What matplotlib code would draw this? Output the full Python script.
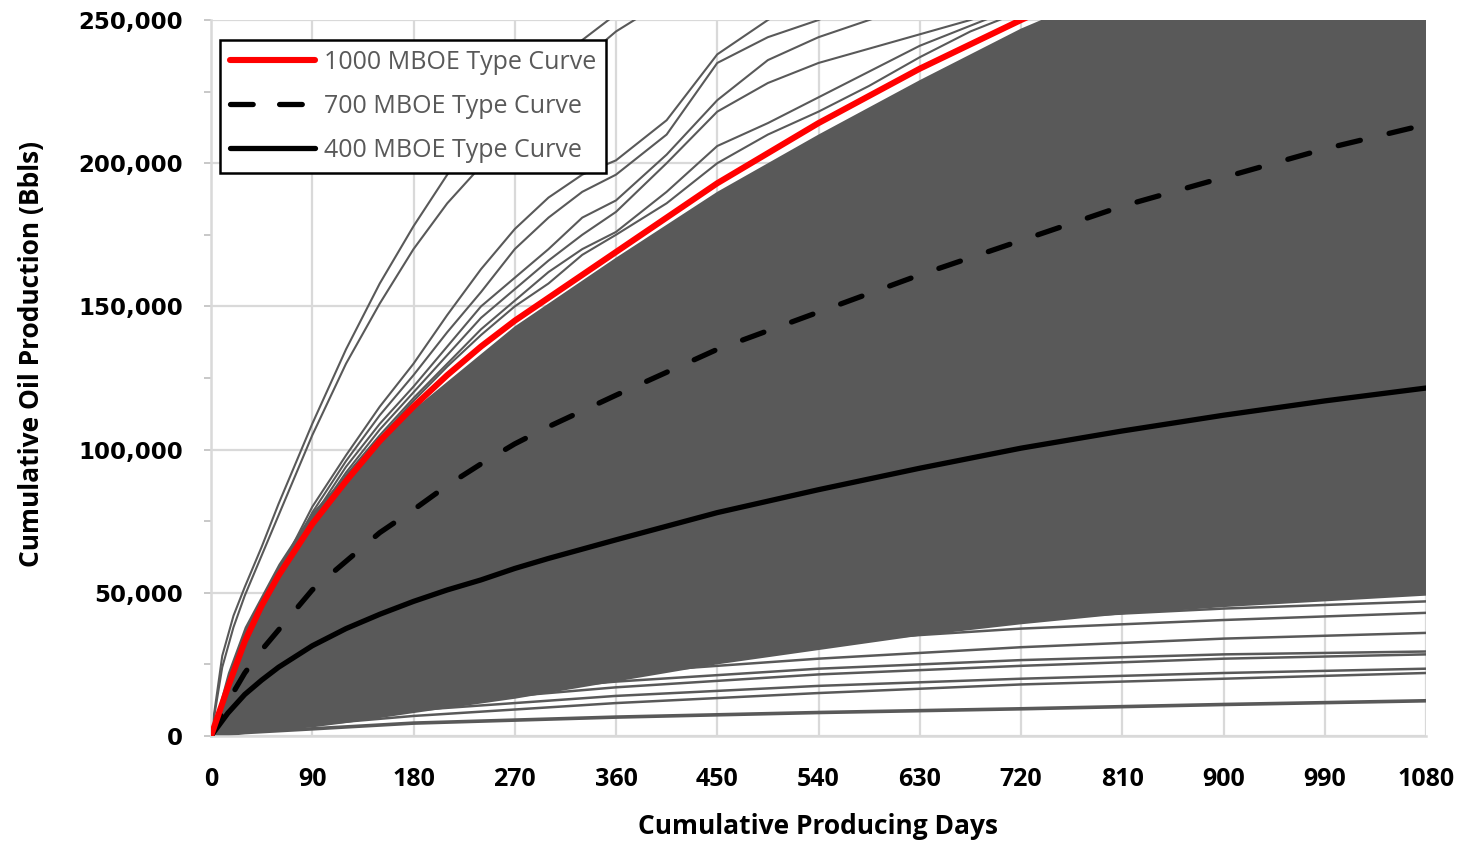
import matplotlib
matplotlib.use("Agg")
import matplotlib.pyplot as plt
from matplotlib.lines import Line2D
from matplotlib.ticker import MultipleLocator, FuncFormatter

# ---------------- data ----------------
TC_DAYS = [0, 15, 30, 45, 60, 90, 120, 150, 180, 210, 240, 270, 300, 360,
           450, 540, 630, 720, 810, 900, 990, 1080]
TC_1000 = [0, 17000, 33000, 45500, 56000, 74000, 89000, 103000, 115000,
           126000, 136000, 145000, 153000, 169000, 193000, 214000, 233000,
           250000, 266000, 281000, 295000, 308000]
TC_700 = [0, 12000, 22000, 30000, 37000, 51000, 61000, 71000, 79000, 87500,
          95000, 102000, 108000, 119000, 135000, 148000, 161000, 173000,
          185000, 195000, 205000, 213500]
TC_400 = [0, 8000, 14500, 19500, 24000, 31500, 37500, 42500, 47000, 51000,
          54500, 58500, 62000, 68500, 78000, 86000, 93500, 100500, 106500,
          112000, 117000, 121500]

# dense cloud of wells (envelope of the solid grey mass)
ENV_DAYS = [0, 15, 30, 60, 90, 120, 180, 270, 360, 450, 540, 630, 720, 810,
            900, 990, 1080]
ENV_UPPER = [0, 22000, 38000, 60000, 78000, 91000, 114000, 143000, 167000,
             190000, 210000, 229000, 247000, 262000, 275000, 287000, 298000]
ENV_LOWER = [0, 500, 1000, 2000, 3000, 4500, 8000, 13000, 19000, 25000,
             30000, 35000, 39000, 42500, 45000, 47000, 49000]

# individual high wells (above the 1000 MBOE curve)
HIGH_DAYS = [0, 10, 20, 30, 45, 60, 90, 120, 150, 180, 210, 240, 270, 300,
             330, 360, 405, 450, 495, 540, 585, 630, 675, 720]
HIGH_1 = [0, 28000, 42000, 52000, 66000, 81000, 109000, 135000, 158000,
          178000, 196000, 210000, 222000, 233000, 243000, 252000, 263000,
          273000, 282000, 290000, 298000, 305000, 312000, 318000]
HIGH_2 = [0, 24000, 38000, 49000, 63000, 77000, 105000, 130000, 151000,
          170000, 186000, 199000, 212000, 225000, 236000, 246000, 257000,
          267000, 276000, 284000, 292000, 299000, 306000, 312000]
HIGH_3 = [0, 12000, 22000, 32000, 45000, 57000, 80000, 98000, 115000,
          130000, 147000, 163000, 177000, 188000, 196000, 201000, 215000,
          238000, 250000, 260000, 268000, 276000, 283000, 290000]
HIGH_4 = [0, 11000, 21000, 31000, 44000, 56000, 78000, 96000, 112000,
          126000, 141000, 155000, 170000, 181000, 190000, 196000, 210000,
          235000, 244000, 250000, 258000, 266000, 273000, 280000]
HIGH_5 = [0, 11000, 21000, 30000, 43000, 55000, 76000, 94000, 109000,
          122000, 136000, 150000, 160000, 170000, 181000, 187000, 203000,
          222000, 236000, 244000, 250000, 256000, 262000, 268000]
HIGH_6 = [0, 10000, 20000, 30000, 43000, 54000, 75000, 92000, 107000,
          120000, 133000, 146000, 156000, 166000, 175000, 183000, 200000,
          218000, 228000, 235000, 240000, 245000, 250000, 256000]
HIGH_7 = [0, 10000, 20000, 29000, 42000, 53000, 74000, 91000, 105000,
          118000, 130000, 142000, 152000, 162000, 170000, 176000, 190000,
          206000, 214000, 223000, 232000, 241000, 248000, 255000]
HIGH_8 = [0, 10000, 19000, 29000, 42000, 53000, 73000, 90000, 104000,
          117000, 129000, 140000, 150000, 158000, 168000, 175000, 186000,
          200000, 210000, 218000, 227000, 237000, 246000, 253000]
HIGH_WELLS = [HIGH_1, HIGH_2, HIGH_3, HIGH_4, HIGH_5, HIGH_6, HIGH_7, HIGH_8]

# individual low wells (below the dense mass)
LOW_DAYS = [0, 30, 90, 180, 360, 540, 720, 900, 1080]
LOW_WELLS = [
    [0, 1200, 2500, 4500, 6600, 8200, 9500, 11000, 12300],
    [0, 2000, 4000, 7000, 11500, 15000, 18000, 20000, 22000],
    [0, 2500, 5000, 9000, 14000, 17500, 20000, 22000, 23500],
    [0, 3000, 6000, 11000, 17000, 21500, 24500, 27000, 28500],
    [0, 3500, 7000, 13000, 19000, 23500, 26500, 28500, 29500],
    [0, 4000, 8000, 15000, 22000, 27000, 31000, 34000, 36000],
    [0, 4500, 9000, 17000, 26000, 33000, 37500, 40500, 43000],
    [0, 5000, 10000, 18000, 28000, 36000, 41000, 44500, 47000],
]

X_TICKS = [0, 90, 180, 270, 360, 450, 540, 630, 720, 810, 900, 990, 1080]
Y_TICKS = [0, 50000, 100000, 150000, 200000, 250000]
LEGEND_LABELS = ["1000 MBOE Type Curve", "700 MBOE Type Curve",
                 "400 MBOE Type Curve"]

# ---------------- styling ----------------
GREY = "#595959"
GRID = "#d9d9d9"
FONT = ["Open Sans", "DejaVu Sans"]

fig = plt.figure(figsize=(14.68, 8.41), dpi=100)
fig.patch.set_facecolor("white")
ax = fig.add_axes([211 / 1468, 1 - 736 / 841, 1215 / 1468, 716 / 841])

ax.set_xlim(0, 1080)
ax.set_ylim(0, 250000)

# grid
ax.set_xticks(X_TICKS)
ax.set_yticks(Y_TICKS)
ax.yaxis.set_minor_locator(MultipleLocator(25000))
ax.grid(True, which="major", color=GRID, linewidth=1.6, zorder=0)
ax.set_axisbelow(True)
for s in ["top", "right"]:
    ax.spines[s].set_visible(False)
for s in ["left", "bottom"]:
    ax.spines[s].set_color(GRID)
    ax.spines[s].set_linewidth(1.8)

# well cloud
ax.fill_between(ENV_DAYS, ENV_LOWER, ENV_UPPER, color=GREY, linewidth=0,
                zorder=2)
for w in HIGH_WELLS:
    ax.plot(HIGH_DAYS, w, color=GREY, linewidth=1.5, zorder=2)
for i, w in enumerate(LOW_WELLS):
    ax.plot(LOW_DAYS, w, color=GREY, linewidth=2.6 if i == 0 else 1.8,
            zorder=2)

# type curves
ax.plot(TC_DAYS, TC_400, color="black", linewidth=3.8, zorder=4,
        solid_capstyle="round", solid_joinstyle="round")
ax.plot(TC_DAYS, TC_700, color="black", linewidth=3.8, zorder=4,
        dashes=(4.3, 5.6), dash_capstyle="round")
ax.plot(TC_DAYS, TC_1000, color="#ff0000", linewidth=4.4, zorder=5,
        solid_capstyle="round", solid_joinstyle="round")

# ticks
ax.yaxis.set_major_formatter(FuncFormatter(lambda v, p: f"{int(v):,}"))
ax.tick_params(axis="y", which="both", direction="out", length=5,
               color="#bfbfbf", width=1.2, pad=15)
ax.tick_params(axis="x", which="both", length=0, pad=22)
for lab in ax.get_yticklabels():
    lab.set_fontfamily(["DejaVu Sans"])
    lab.set_fontweight("bold")
    lab.set_fontsize(16.5)
    lab.set_color("black")
for lab in ax.get_xticklabels():
    lab.set_fontfamily(FONT)
    lab.set_fontweight("bold")
    lab.set_fontsize(18)
    lab.set_color("black")

ax.set_xlabel("Cumulative Producing Days", fontfamily=FONT,
              fontweight="bold", fontsize=19, color="black")
ax.set_ylabel("Cumulative Oil Production (Bbls)", fontfamily=FONT,
              fontweight="bold", fontsize=19, color="black")
ax.xaxis.set_label_coords(0.5, -0.108)
ax.yaxis.set_label_coords(-0.137, 0.533)

# legend
handles = [
    Line2D([0], [0], color="#ff0000", linewidth=4.4, solid_capstyle="round"),
    Line2D([0], [0], color="black", linewidth=3.8, dashes=(4.3, 5.0),
           dash_capstyle="round"),
    Line2D([0], [0], color="black", linewidth=3.8, solid_capstyle="round"),
]
leg = ax.legend(handles, LEGEND_LABELS, loc="upper left",
                bbox_to_anchor=(0.0074, 0.972), borderaxespad=0,
                frameon=True, fancybox=False, framealpha=1,
                edgecolor="black", handlelength=3.4, handletextpad=0.36,
                labelspacing=0.75, borderpad=0.4,
                prop={"family": FONT, "size": 18})
leg.get_frame().set_linewidth(1.8)
leg.set_zorder(10)
for t in leg.get_texts():
    t.set_color(GREY)

fig.savefig("out.png", dpi=100, facecolor="white")
